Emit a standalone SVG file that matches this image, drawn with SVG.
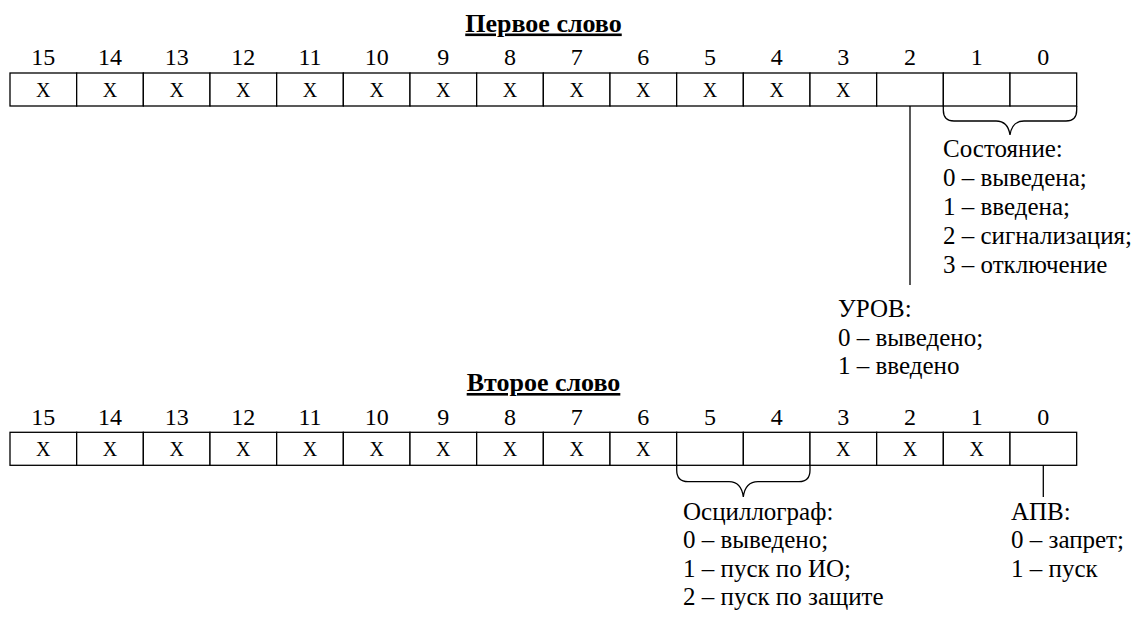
<svg xmlns="http://www.w3.org/2000/svg" width="1139" height="623" viewBox="0 0 1139 623">
<style>
text{font-family:"Liberation Serif","Times New Roman",serif;fill:#000}
.n{font-size:24px;text-anchor:middle}
.x{font-size:20px;text-anchor:middle}
.t{font-size:26px;font-weight:bold;text-anchor:middle;text-decoration:underline}
.l{font-size:25px}
.c{fill:#fff;stroke:#000;stroke-width:1.3}
.k{fill:none;stroke:#000;stroke-width:1.3}
</style>
<defs>
<rect id="cell" class="c" width="66.667" height="33"/>
</defs>
<g id="word1">
<text class="t" x="543.5" y="31.5">Первое слово</text>
<g class="n">
<text x="43.3" y="65">15</text><text x="110" y="65">14</text><text x="176.7" y="65">13</text><text x="243.3" y="65">12</text>
<text x="310" y="65">11</text><text x="376.7" y="65">10</text><text x="443.3" y="65">9</text><text x="510" y="65">8</text>
<text x="576.7" y="65">7</text><text x="643.3" y="65">6</text><text x="710" y="65">5</text><text x="776.7" y="65">4</text>
<text x="843.3" y="65">3</text><text x="910" y="65">2</text><text x="976.7" y="65">1</text><text x="1043.3" y="65">0</text>
</g>
<use href="#cell" x="10" y="73"/><use href="#cell" x="76.667" y="73"/><use href="#cell" x="143.333" y="73"/><use href="#cell" x="210" y="73"/>
<use href="#cell" x="276.667" y="73"/><use href="#cell" x="343.333" y="73"/><use href="#cell" x="410" y="73"/><use href="#cell" x="476.667" y="73"/>
<use href="#cell" x="543.333" y="73"/><use href="#cell" x="610" y="73"/><use href="#cell" x="676.667" y="73"/><use href="#cell" x="743.333" y="73"/>
<use href="#cell" x="810" y="73"/><use href="#cell" x="876.667" y="73"/><use href="#cell" x="943.333" y="73"/><use href="#cell" x="1010" y="73"/>
<g class="x">
<text x="43.3" y="96.5">X</text><text x="110" y="96.5">X</text><text x="176.7" y="96.5">X</text><text x="243.3" y="96.5">X</text>
<text x="310" y="96.5">X</text><text x="376.7" y="96.5">X</text><text x="443.3" y="96.5">X</text><text x="510" y="96.5">X</text>
<text x="576.7" y="96.5">X</text><text x="643.3" y="96.5">X</text><text x="710" y="96.5">X</text><text x="776.7" y="96.5">X</text>
<text x="843.3" y="96.5">X</text>
</g>
</g>
<g id="word2">
<text class="t" x="543.5" y="391">Второе слово</text>
<g class="n">
<text x="43.3" y="424.5">15</text><text x="110" y="424.5">14</text><text x="176.7" y="424.5">13</text><text x="243.3" y="424.5">12</text>
<text x="310" y="424.5">11</text><text x="376.7" y="424.5">10</text><text x="443.3" y="424.5">9</text><text x="510" y="424.5">8</text>
<text x="576.7" y="424.5">7</text><text x="643.3" y="424.5">6</text><text x="710" y="424.5">5</text><text x="776.7" y="424.5">4</text>
<text x="843.3" y="424.5">3</text><text x="910" y="424.5">2</text><text x="976.7" y="424.5">1</text><text x="1043.3" y="424.5">0</text>
</g>
<use href="#cell" x="10" y="432.3"/><use href="#cell" x="76.667" y="432.3"/><use href="#cell" x="143.333" y="432.3"/><use href="#cell" x="210" y="432.3"/>
<use href="#cell" x="276.667" y="432.3"/><use href="#cell" x="343.333" y="432.3"/><use href="#cell" x="410" y="432.3"/><use href="#cell" x="476.667" y="432.3"/>
<use href="#cell" x="543.333" y="432.3"/><use href="#cell" x="610" y="432.3"/><use href="#cell" x="676.667" y="432.3"/><use href="#cell" x="743.333" y="432.3"/>
<use href="#cell" x="810" y="432.3"/><use href="#cell" x="876.667" y="432.3"/><use href="#cell" x="943.333" y="432.3"/><use href="#cell" x="1010" y="432.3"/>
<g class="x">
<text x="43.3" y="455.8">X</text><text x="110" y="455.8">X</text><text x="176.7" y="455.8">X</text><text x="243.3" y="455.8">X</text>
<text x="310" y="455.8">X</text><text x="376.7" y="455.8">X</text><text x="443.3" y="455.8">X</text><text x="510" y="455.8">X</text>
<text x="576.7" y="455.8">X</text><text x="643.3" y="455.8">X</text>
<text x="843.3" y="455.8">X</text><text x="910" y="455.8">X</text><text x="976.7" y="455.8">X</text>
</g>
</g>
<g id="connectors">
<path class="k" d="M943.3,106 V110 Q943.3,121 954,121 H996 Q1008,121 1010,135 Q1012,121 1024,121 H1066 Q1076.7,121 1076.7,110 V106"/>
<line class="k" x1="910" y1="106" x2="910" y2="285"/>
<path class="k" d="M676.7,465 V470 Q676.7,481.7 688,481.7 H729 Q741.3,481.7 743.3,497 Q745.3,481.7 758,481.7 H799 Q810,481.7 810,470 V465"/>
<line class="k" x1="1043.3" y1="465" x2="1043.3" y2="497"/>
</g>
<g id="state" class="l">
<text x="943" y="157">Состояние:</text>
<text x="943" y="186">0 – выведена;</text>
<text x="943" y="215">1 – введена;</text>
<text x="943" y="244">2 – сигнализация;</text>
<text x="943" y="272.5">3 – отключение</text>
</g>
<g id="urov" class="l">
<text x="838" y="317">УРОВ:</text>
<text x="838" y="345.5">0 – выведено;</text>
<text x="838" y="374">1 – введено</text>
</g>
<g id="osc" class="l">
<text x="683" y="519.5">Осциллограф:</text>
<text x="683" y="548">0 – выведено;</text>
<text x="683" y="576.5">1 – пуск по ИО;</text>
<text x="683" y="605">2 – пуск по защите</text>
</g>
<g id="apv" class="l">
<text x="1011" y="519.5">АПВ:</text>
<text x="1011" y="548">0 – запрет;</text>
<text x="1011" y="576.5">1 – пуск</text>
</g>
</svg>
